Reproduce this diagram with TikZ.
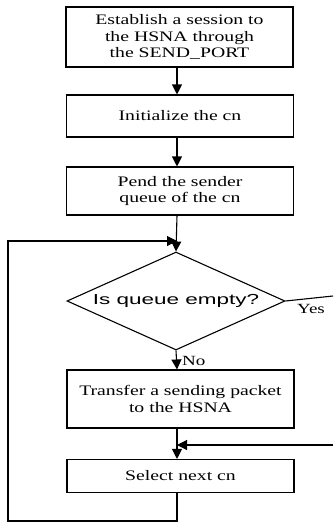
\documentclass[tikz,border=0pt]{standalone}
\usepackage{fontspec}
\setmainfont{Liberation Serif}[FakeStretch=1.36]
\newfontfamily\qsans{Liberation Sans}[FakeStretch=1.55]
\usetikzlibrary{arrows.meta,shapes.geometric}

\tikzset{
  stepbox/.style={draw, line width=1.1pt, minimum width=227pt, inner sep=0pt,
    align=center, font=\fontsize{14.5}{16.5}\selectfont},
  decide/.style={draw, diamond, aspect=2.4, line width=1.1pt, minimum width=218pt,
    minimum height=98pt, inner sep=0pt, font=\qsans\fontsize{14.5}{16}\selectfont},
  link/.style={line width=1.1pt},
  arr/.style={line width=1.1pt, -{Triangle[length=10pt,width=10pt]}},
  tag/.style={font=\fontsize{14}{16}\selectfont, inner sep=0pt}
}

\begin{document}
\begin{tikzpicture}[x=1pt,y=-1pt]
  \path[fill=white, use as bounding box] (0,0) rectangle (333,531);

  % vertical trunk line and outer loop corners
  \coordinate (t) at (177,0);
  \coordinate (loopL) at (8,0);
  \coordinate (loopB) at (0,521);
  \coordinate (rin) at (333,296);
  \coordinate (rback) at (333,445);
  \coordinate (loopT) at (0,241);
  \coordinate (join) at (0,445);

  % process steps
  \node[stepbox, minimum height=60pt] (s1) at (179.5,37)
    {Establish a session to\\the HSNA through\\the SEND\_PORT};
  \node[stepbox, minimum height=42pt] (s2) at (180,116) {Initialize the cn};
  \node[stepbox, minimum height=48pt] (s3) at (180,191)
    {Pend the sender\\queue of the cn};
  \node[decide] (d) at (176,301) {Is queue empty?};
  \node[stepbox, minimum height=58pt] (s4) at (180.5,399)
    {Transfer a sending packet\\to the HSNA};
  \node[stepbox, minimum height=33pt] (s5) at (180.5,476) {Select next cn};

  % branch labels
  \node[tag, anchor=north west] (yes) at (297,304) {Yes};
  \node[tag, anchor=west] (no) at (182,361) {No};

  % straight flow
  \draw[arr] (s1.south -| t) -- (s2.north -| t);
  \draw[arr] (s2.south -| t) -- (s3.north -| t);
  \draw[arr] (s3.south -| t) -- (d.north);
  \draw[arr] (d.south) -- (s4.north -| t);
  \draw[arr] (s4.south -| t) -- (s5.north -| t);

  % "Yes" exit to the right
  \draw[link] (d.east) -- (rin);

  % return line entering above "Select next cn"
  \draw[arr] (rback) -- (join -| t);

  % loop back to the decision
  \draw[link] (s5.south -| t) -- (loopB -| t) -- (loopB -| loopL) -- (loopT -| loopL)
    -- ([xshift=-12pt]loopT -| t);
  \draw[arr] ([xshift=-14pt]loopT -| t) -- (loopT -| t);
\end{tikzpicture}
\end{document}
